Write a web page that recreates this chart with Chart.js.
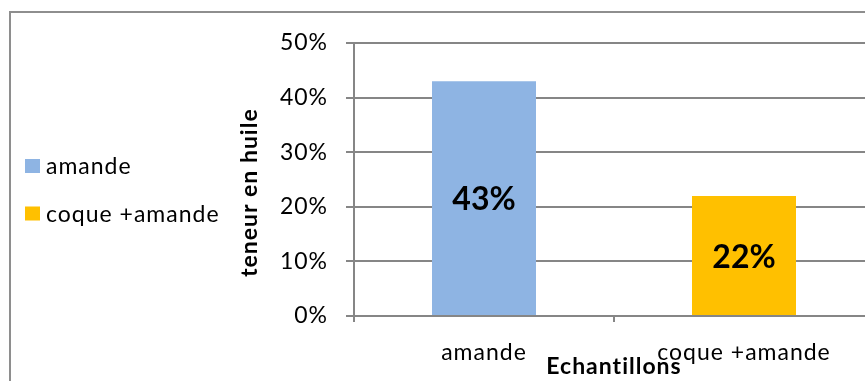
<!DOCTYPE html>
<html><head><meta charset="utf-8">
<script src="https://cdn.jsdelivr.net/npm/chart.js@4"></script>
<style>
html,body{margin:0;padding:0;background:#fff;overflow:hidden;}
#wrap{position:relative;width:865px;height:381px;overflow:hidden;background:#fff;}
#frame{position:absolute;left:9px;top:11px;width:1000px;height:500px;border-left:2px solid #8e8e8e;border-top:2px solid #8e8e8e;box-sizing:border-box;pointer-events:none;}
canvas{position:absolute;left:0;top:0;}
</style></head><body>
<div id="wrap"><canvas id="c" width="880" height="381"></canvas><div id="frame"></div></div>
<script>
const categories = ['amande', 'coque +amande'];
const values = [0.43, 0.22];
const barColors = ['#8EB4E3', '#FFC000'];
const yTicks = [0, 0.1, 0.2, 0.3, 0.4, 0.5];
const yTitle = 'teneur en huile';
const xTitle = 'Echantillons';

const pct = v => Math.round(v * 100) + '%';
const FONT = 'Lato';
const FS = 23;
const AXIS = '#868686';

const spacingPlugin = {
  id: 'spacing',
  beforeUpdate(chart) { chart.ctx.letterSpacing = '1px'; },
  beforeLayout(chart) { chart.ctx.letterSpacing = '1px'; },
  beforeDraw(chart) { chart.ctx.letterSpacing = '1px'; }
};

const legendPlugin = {
  id: 'sideLegend',
  afterDraw(chart) {
    const ctx = chart.ctx;
    const ds = chart.data.datasets[0];
    ctx.save();
    ctx.letterSpacing = '1px';
    ctx.font = FS + 'px ' + FONT;
    ctx.textBaseline = 'middle';
    ctx.textAlign = 'left';
    chart.data.labels.forEach((lab, i) => {
      const cy = 166 + i * 47.5;
      ctx.fillStyle = ds.backgroundColor[i];
      ctx.fillRect(25, cy - 7, 15, 14);
      ctx.fillStyle = '#000';
      ctx.fillText(lab, 46, cy + 1);
    });
    ctx.restore();
  }
};

const labelPlugin = {
  id: 'barLabels',
  afterDatasetsDraw(chart) {
    const ctx = chart.ctx;
    const meta = chart.getDatasetMeta(0);
    ctx.save();
    ctx.letterSpacing = '0px';
    ctx.font = 'bold 32px ' + FONT;
    ctx.fillStyle = '#000';
    ctx.textAlign = 'center';
    ctx.textBaseline = 'middle';
    meta.data.forEach((bar, i) => {
      const p = bar.getProps(['x', 'y', 'base'], true);
      ctx.fillText(pct(chart.data.datasets[0].data[i]), p.x, (p.y + p.base) / 2 + 2);
    });
    ctx.restore();
  }
};

new Chart(document.getElementById('c'), {
  type: 'bar',
  data: {
    labels: categories,
    datasets: [{
      data: values,
      backgroundColor: barColors,
      categoryPercentage: 1,
      barPercentage: 0.4
    }]
  },
  options: {
    responsive: false,
    animation: false,
    devicePixelRatio: 1,
    layout: { padding: { left: 230, top: 43, right: 6, bottom: 0 } },
    plugins: { legend: { display: false }, tooltip: { enabled: false } },
    scales: {
      x: {
        grid: { drawOnChartArea: false, drawTicks: true, tickLength: 6, color: AXIS, lineWidth: 2, offset: true },
        border: { color: AXIS, width: 2 },
        ticks: { font: { family: FONT, size: FS }, color: '#000', padding: 17, maxRotation: 0, autoSkip: false },
        title: { display: true, text: xTitle, font: { family: FONT, size: FS, weight: 'bold' }, color: '#000', padding: { top: 0, bottom: 1 } },
        afterFit: s => { s.height = 65; }
      },
      y: {
        min: 0, max: 0.5,
        afterBuildTicks: s => { s.ticks = yTicks.map(v => ({ value: v })); },
        grid: { color: AXIS, lineWidth: 2, tickLength: 8 },
        border: { color: AXIS, width: 2 },
        ticks: { font: { family: FONT, size: FS }, color: '#000', padding: 18, callback: v => pct(v) },
        title: { display: true, text: yTitle + '\u00a0\u00a0\u00a0\u00a0', font: { family: FONT, size: FS, weight: 'bold' }, color: '#000', padding: { top: 6, bottom: 0 } },
        afterFit: s => { s.width = 124; }
      }
    }
  },
  plugins: [spacingPlugin, legendPlugin, labelPlugin]
});
</script>
</body></html>
